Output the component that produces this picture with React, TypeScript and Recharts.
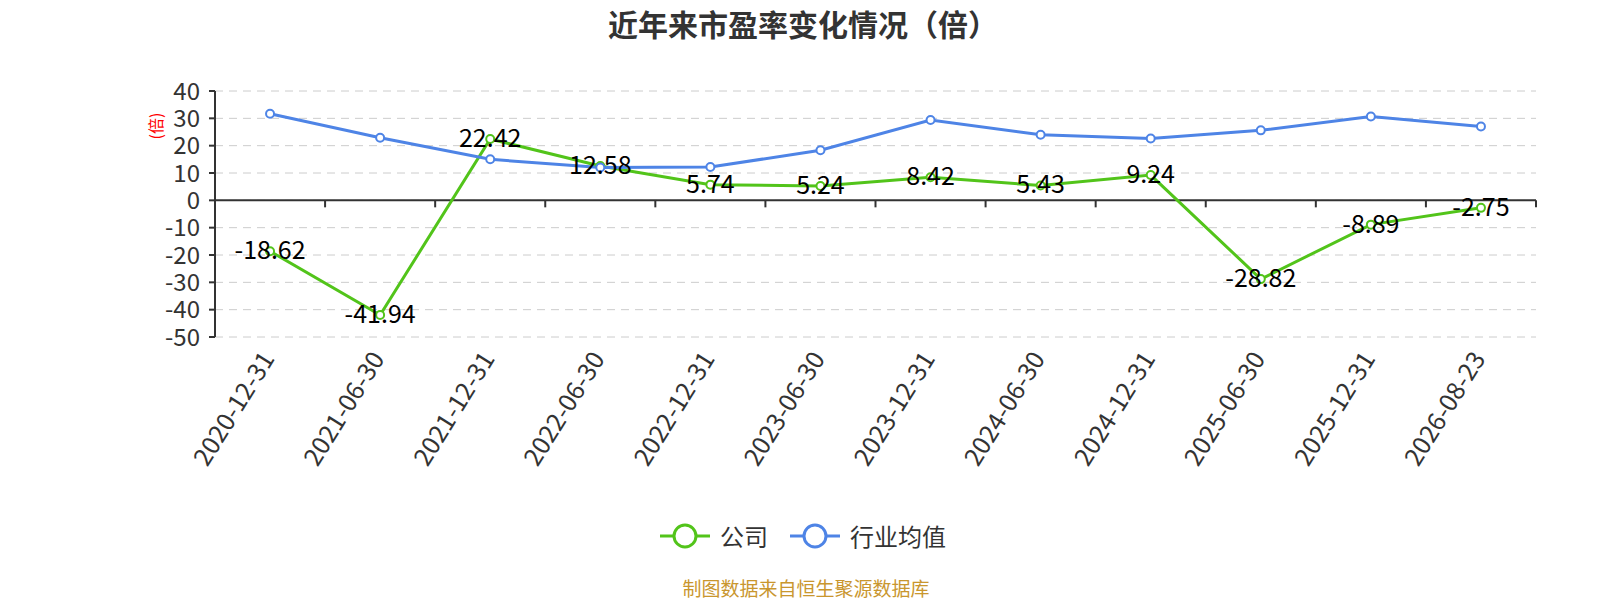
import { CartesianGrid, LabelList, Line, LineChart, ReferenceLine, XAxis, YAxis } from "recharts";

const FONT = '"Noto Sans CJK SC", "Noto Sans", sans-serif';

const dates = [
  "2020-12-31", "2021-06-30", "2021-12-31", "2022-06-30", "2022-12-31", "2023-06-30",
  "2023-12-31", "2024-06-30", "2024-12-31", "2025-06-30", "2025-12-31", "2026-08-23",
];
const company = [-18.62, -41.94, 22.42, 12.58, 5.74, 5.24, 8.42, 5.43, 9.24, -28.82, -8.89, -2.75];
const industry = [31.7, 22.9, 15.0, 12.0, 12.2, 18.3, 29.4, 24.0, 22.6, 25.6, 30.7, 27.0];
const yTicks = [-50, -40, -30, -20, -10, 0, 10, 20, 30, 40];

const GREEN = "#52c41a";
const BLUE = "#4e84e6";
const INK = "#333";

const data = dates.map((d, i) => ({ date: d, company: company[i], industry: industry[i] }));

/* zero baseline with downward ticks at the band edges */
function ZeroAxis(props: any) {
  const { x1, x2, y1 } = props;
  const step = (x2 - x1) / dates.length;
  return (
    <g>
      <line x1={x1} x2={x2} y1={y1} y2={y1} stroke={INK} strokeWidth={2} />
      {dates.map((d, i) => (
        <line key={d} x1={x1 + step * (i + 1)} x2={x1 + step * (i + 1)} y1={y1} y2={y1 + 7}
          stroke={INK} strokeWidth={2} />
      ))}
    </g>
  );
}

function DateTick({ x, y, payload }: any) {
  const ax = x - 4;
  const ay = y + 8;
  return (
    <text x={ax} y={ay} transform={`rotate(-58 ${ax} ${ay})`} textAnchor="end"
      dominantBaseline="central" fontSize={25} fill={INK} fontFamily={FONT}>
      {payload.value}
    </text>
  );
}

function PointLabel({ x, y, value }: any) {
  return (
    <text x={x} y={y - 3} textAnchor="middle" dominantBaseline="central" fontSize={25}
      fill="#000" fontFamily={FONT}>
      {value}
    </text>
  );
}

function LegendIcon({ color }: { color: string }) {
  return (
    <svg width={50} height={26} style={{ marginRight: 10 }}>
      <line x1={0} x2={50} y1={13} y2={13} stroke={color} strokeWidth={3} />
      <circle cx={25} cy={13} r={11} fill="#fff" stroke={color} strokeWidth={3} />
    </svg>
  );
}

export default function App() {
  return (
    <div style={{ position: "absolute", left: 0, top: 0, width: 1600, height: 600, fontFamily: FONT, background: "#fff" }}>
      <div style={{ position: "absolute", left: 10, width: 1586, top: 1, textAlign: "center",
        fontSize: 30, fontWeight: "bold", color: INK }}>
        近年来市盈率变化情况（倍）
      </div>
      <div style={{ position: "absolute", left: 135, top: 116, width: 40, textAlign: "center",
        transform: "rotate(-90deg)", fontSize: 16, color: "#f00", lineHeight: "20px" }}>
        (倍)
      </div>
      <LineChart width={1600} height={600} data={data}
        margin={{ top: 91, right: 64, bottom: 113, left: 145 }}>
        <CartesianGrid vertical={false} stroke="#ccc" strokeDasharray="8 6" />
        <XAxis dataKey="date" scale="band" axisLine={false} tickLine={false} height={150} interval={0}
          tick={<DateTick />} />
        <YAxis domain={[-50, 40]} ticks={yTicks} width={70} interval={0}
          axisLine={{ stroke: INK, strokeWidth: 2 }} tickLine={{ stroke: INK, strokeWidth: 2 }}
          tickSize={6} tickMargin={9}
          tick={{ fontSize: 24, fill: INK, fontFamily: FONT }} />
        <ReferenceLine y={0} shape={<ZeroAxis />} />
        <Line dataKey="company" name="公司" stroke={GREEN} strokeWidth={3}
          dot={{ r: 4, fill: "#fff", stroke: GREEN, strokeWidth: 2 }} activeDot={false}
          isAnimationActive={false}>
          <LabelList dataKey="company" content={<PointLabel />} />
        </Line>
        <Line dataKey="industry" name="行业均值" stroke={BLUE} strokeWidth={3}
          dot={{ r: 4, fill: "#fff", stroke: BLUE, strokeWidth: 2 }} activeDot={false}
          isAnimationActive={false} />
      </LineChart>
      <div style={{ position: "absolute", left: 5, width: 1600, top: 518, display: "flex",
        justifyContent: "center", alignItems: "center", fontSize: 24, color: INK }}>
        <div style={{ display: "flex", alignItems: "center", marginLeft: -4 }}>
          <LegendIcon color={GREEN} />公司
        </div>
        <div style={{ display: "flex", alignItems: "center", marginLeft: 22 }}>
          <LegendIcon color={BLUE} />行业均值
        </div>
      </div>
      <div style={{ position: "absolute", left: 6, width: 1600, top: 575, textAlign: "center",
        fontSize: 19, color: "#c9962e", lineHeight: "26px" }}>
        制图数据来自恒生聚源数据库
      </div>
    </div>
  );
}
